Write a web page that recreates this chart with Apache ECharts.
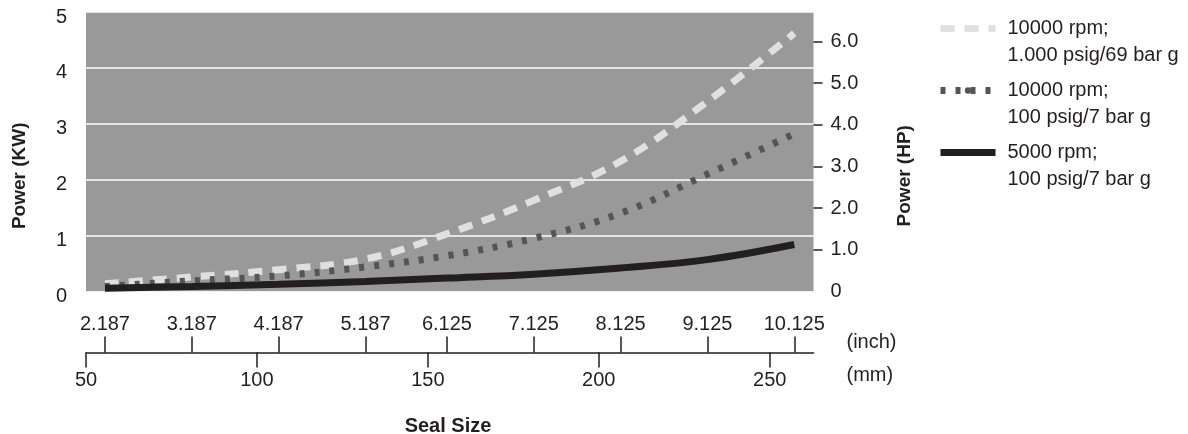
<!DOCTYPE html>
<html>
<head>
<meta charset="utf-8">
<script src="https://cdn.jsdelivr.net/npm/echarts@6/dist/echarts.min.js"></script>
<style>html,body{margin:0;padding:0;background:#fff}#c{width:1188px;height:434px}</style>
</head>
<body>
<div id="c"></div>
<script>
// Seal sizes (inch) at which the curves are read
const inchSizes = [2.187, 3.187, 4.187, 5.187, 6.125, 7.125, 8.125, 9.125, 10.125];
// mm axis tick labels
const mmTicks = [50, 100, 150, 200, 250];
// Power (kW) per seal size
const rpm10000psig1000 = [0.14, 0.26, 0.39, 0.58, 1.03, 1.63, 2.33, 3.40, 4.62];
const rpm10000psig100 = [0.09, 0.19, 0.28, 0.44, 0.64, 0.95, 1.40, 2.10, 2.82];
const rpm5000psig100 = [0.06, 0.09, 0.13, 0.18, 0.24, 0.31, 0.42, 0.57, 0.84];
// Left (kW) and right (HP) axis ticks
const kwTicks = [0, 1, 2, 3, 4, 5];
const hpTicks = [0, 1, 2, 3, 4, 5, 6];
const seriesNames = ['10000 rpm;\n1.000 psig/69 bar g', '10000 rpm;\n100 psig/7 bar g', '5000 rpm;\n100 psig/7 bar g'];

const MM_PER_INCH = 25.4;
const KW_PER_HP = 0.7457;
const mmMin = 50, mmMax = 262.8;
const kwMax = 5;

const FONT = 'Liberation Sans, Arial, sans-serif';
const TXT = '#231f20';

function pairs(vals) { return inchSizes.map((s, i) => [s * MM_PER_INCH, vals[i]]); }

const chart = echarts.init(document.getElementById('c'), null, { renderer: 'canvas' });
chart.setOption({
  animation: false,
  textStyle: { fontFamily: FONT, color: TXT },
  title: {
    text: 'Seal Size', left: 443, top: 411, textAlign: 'center',
    textStyle: { fontFamily: FONT, fontSize: 20, fontWeight: 'bold', color: TXT }
  },
  legend: {
    orient: 'vertical', left: 937, top: -12, padding: 0, itemGap: -19,
    itemWidth: 55, itemHeight: 8,
    data: seriesNames,
    formatter: name => '\n' + name,
    lineStyle: { width: 7 },
    textStyle: { fontFamily: FONT, fontSize: 20, lineHeight: 27, color: TXT, padding: [0, 0, 0, 7] }
  },
  grid: {
    left: 86, right: 374.5, top: 12, bottom: 142.5,
    show: true, backgroundColor: '#999999', borderWidth: 0
  },
  xAxis: [
    {
      type: 'value', position: 'bottom', offset: 61, min: mmMin, max: mmMax,
      name: '(mm)', nameLocation: 'end', nameGap: 33,
      nameTextStyle: { fontFamily: FONT, fontSize: 20, color: TXT, verticalAlign: 'top', lineHeight: 46 },
      axisLine: { show: true, onZero: false, lineStyle: { color: TXT, width: 1.5 } },
      axisTick: { show: true, length: 15, customValues: mmTicks, lineStyle: { color: TXT, width: 1.5 } },
      axisLabel: { customValues: mmTicks, margin: 18, fontSize: 20, color: TXT, fontFamily: FONT },
      splitLine: { show: false }
    },
    {
      type: 'value', position: 'bottom', offset: 61, min: mmMin, max: mmMax,
      name: '(inch)', nameLocation: 'end', nameGap: 33,
      nameTextStyle: { fontFamily: FONT, fontSize: 20, color: TXT, verticalAlign: 'bottom' },
      axisLine: { show: false, onZero: false },
      axisTick: { show: true, inside: true, length: 16, customValues: inchSizes.map(s => s * MM_PER_INCH), lineStyle: { color: TXT, width: 1.5 } },
      axisLabel: {
        inside: true, margin: 18, fontSize: 20, color: TXT, fontFamily: FONT,
        customValues: inchSizes.map(s => s * MM_PER_INCH),
        formatter: v => (v / MM_PER_INCH).toFixed(3)
      },
      splitLine: { show: false }
    }
  ],
  yAxis: [
    {
      type: 'value', min: 0, max: kwMax, interval: 1, position: 'left',
      name: 'Power (KW)', nameLocation: 'middle', nameRotate: 90, nameGap: 57,
      nameTextStyle: { fontFamily: FONT, fontSize: 19, fontWeight: 'bold', color: TXT, padding: [0, 48, 0, 0] },
      axisLine: { show: false }, axisTick: { show: false },
      axisLabel: { margin: 19, fontSize: 20, color: TXT, fontFamily: FONT, verticalAlign: 'top', lineHeight: 10, customValues: kwTicks },
      splitLine: { show: true, lineStyle: { color: '#ffffff', width: 1.5 } }
    },
    {
      type: 'value', min: 0, max: kwMax / KW_PER_HP, position: 'right',
      name: 'Power (HP)', nameLocation: 'middle', nameRotate: 90, nameGap: 82,
      nameTextStyle: { fontFamily: FONT, fontSize: 19, fontWeight: 'bold', color: TXT, padding: [0, 48, 0, 0] },
      axisLine: { show: false },
      axisTick: { show: true, length: 9, customValues: hpTicks.filter(v => v > 0), lineStyle: { color: TXT, width: 1.5 } },
      axisLabel: { margin: 17, fontSize: 20, color: TXT, fontFamily: FONT, customValues: hpTicks, formatter: v => v === 0 ? '0' : v.toFixed(1) },
      splitLine: { show: false }
    }
  ],
  series: [
    {
      name: seriesNames[0], type: 'line', xAxisIndex: 0, yAxisIndex: 0,
      data: pairs(rpm10000psig1000), smooth: 0.4, symbol: 'none', silent: true,
      lineStyle: { color: '#e0e0e0', width: 7, type: [14, 10], cap: 'butt' }, itemStyle: { color: '#e0e0e0' }
    },
    {
      name: seriesNames[1], type: 'line', xAxisIndex: 0, yAxisIndex: 0,
      data: pairs(rpm10000psig100), smooth: 0.4, symbol: 'none', silent: true,
      lineStyle: { color: '#555555', width: 7, type: [5, 10], cap: 'butt' }, itemStyle: { color: '#555555' }
    },
    {
      name: seriesNames[2], type: 'line', xAxisIndex: 0, yAxisIndex: 0,
      data: pairs(rpm5000psig100), smooth: 0.4, symbol: 'none', silent: true,
      lineStyle: { color: '#231f20', width: 7, type: 'solid', cap: 'butt' }, itemStyle: { color: '#231f20' }
    }
  ]
});
</script>
</body>
</html>
